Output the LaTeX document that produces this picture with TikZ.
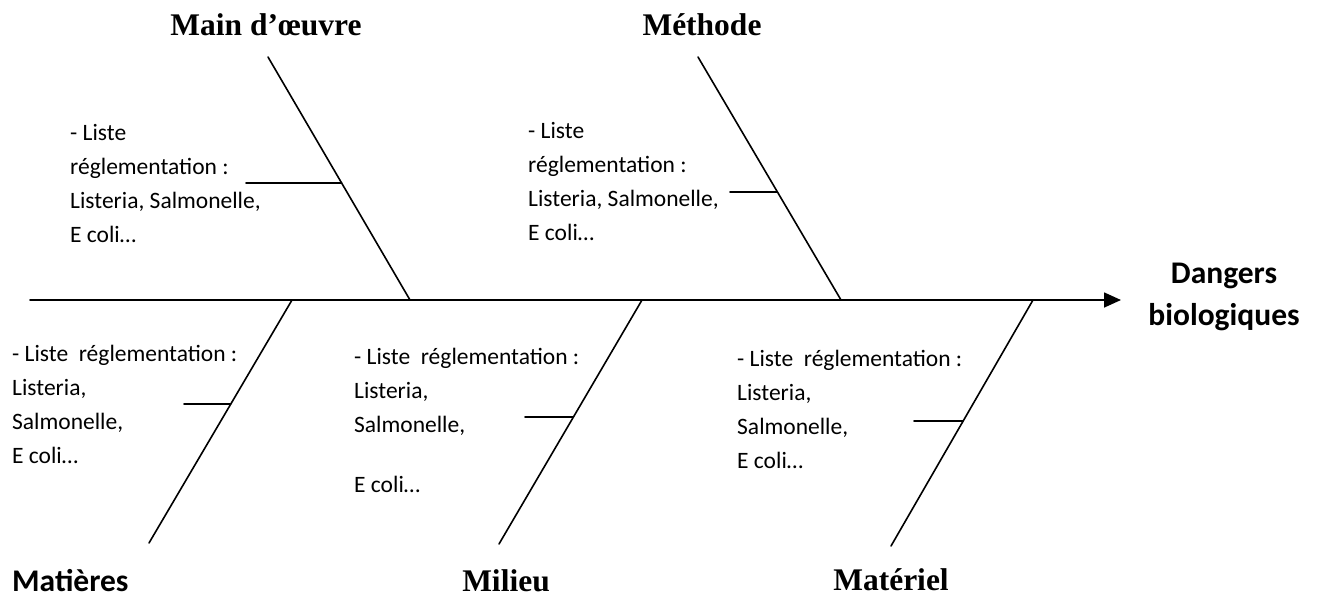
\documentclass[tikz,border=0pt]{standalone}
\usepackage{fontspec}
\setmainfont{Carlito}
\newfontfamily\timesf{Liberation Serif}
\usetikzlibrary{arrows.meta}
\tikzset{
  bone/.style={line width=1.6pt, line cap=round},
  body/.style={font=\fontsize{23.5}{34}\selectfont, align=left, inner sep=0pt, anchor=base west},
  ttl/.style={font=\timesf\bfseries\fontsize{31.5}{38}\selectfont, inner sep=0pt, anchor=base},
  cttl/.style={font=\bfseries\fontsize{31.5}{42}\selectfont, inner sep=0pt, align=center},
}
\begin{document}
\begin{tikzpicture}[x=1pt,y=-1pt]
\useasboundingbox (0,0) rectangle (1317,598);
% spine
\coordinate (s0) at (30,300);
\coordinate (s1) at (1121,300);
\draw[bone, -{Triangle[length=17pt,width=15pt]}] (s0) -- (s1);
% branch end points
\coordinate (b1t) at (268,57);  \coordinate (b1b) at (410,300);
\coordinate (b2t) at (698,57);  \coordinate (b2b) at (841,300);
\coordinate (b3t) at (292,300); \coordinate (b3b) at (149,543);
\coordinate (b4t) at (642,300); \coordinate (b4b) at (499,544);
\coordinate (b5t) at (1033,300);\coordinate (b5b) at (891,546);
\draw[bone] (b1t) -- (b1b) coordinate[pos=0.5185] (j1);
\draw[bone] (b2t) -- (b2b) coordinate[pos=0.5556] (j2);
\draw[bone] (b3t) -- (b3b) coordinate[pos=0.428] (j3);
\draw[bone] (b4t) -- (b4b) coordinate[pos=0.4795] (j4);
\draw[bone] (b5t) -- (b5b) coordinate[pos=0.4919] (j5);
% sub-branches
\coordinate (k1) at (246,183);
\coordinate (k2) at (730,192);
\coordinate (k3) at (184,404);
\coordinate (k4) at (525,417);
\coordinate (k5) at (914,421);
\draw[bone] (k1) -- (j1);
\draw[bone] (k2) -- (j2);
\draw[bone] (k3) -- (j3);
\draw[bone] (k4) -- (j4);
\draw[bone] (k5) -- (j5);
% texts (anchored at the baseline of their last line)
\node[body] (t1) at (70,242) {- Liste\\réglementation :\\Listeria, Salmonelle,\\E coli…};
\node[body] (t2) at (528,240) {- Liste\\réglementation :\\Listeria, Salmonelle,\\E coli…};
\node[body] (t3) at (12,463) {- Liste\ \ réglementation :\\Listeria,\\Salmonelle,\\E coli…};
\node[body] (t4) at (354,492) {- Liste\ \ réglementation :\\Listeria,\\Salmonelle,\\[26pt]E coli…};
\node[body] (t5) at (737,468) {- Liste\ \ réglementation :\\Listeria,\\Salmonelle,\\E coli…};
% titles
\node[ttl] (main) at (266,35) {Main d’œuvre};
\node[ttl] (meth) at (702,35) {Méthode};
\node[ttl] (mil) at (506,591) {Milieu};
\node[ttl] (mat) at (891,590) {Matériel};
\node[cttl, anchor=base west] (matp) at (12,591) {Matières};
\node[cttl, anchor=base] (dang) at (1224,325) {Dangers\\biologiques};
\end{tikzpicture}
\end{document}
